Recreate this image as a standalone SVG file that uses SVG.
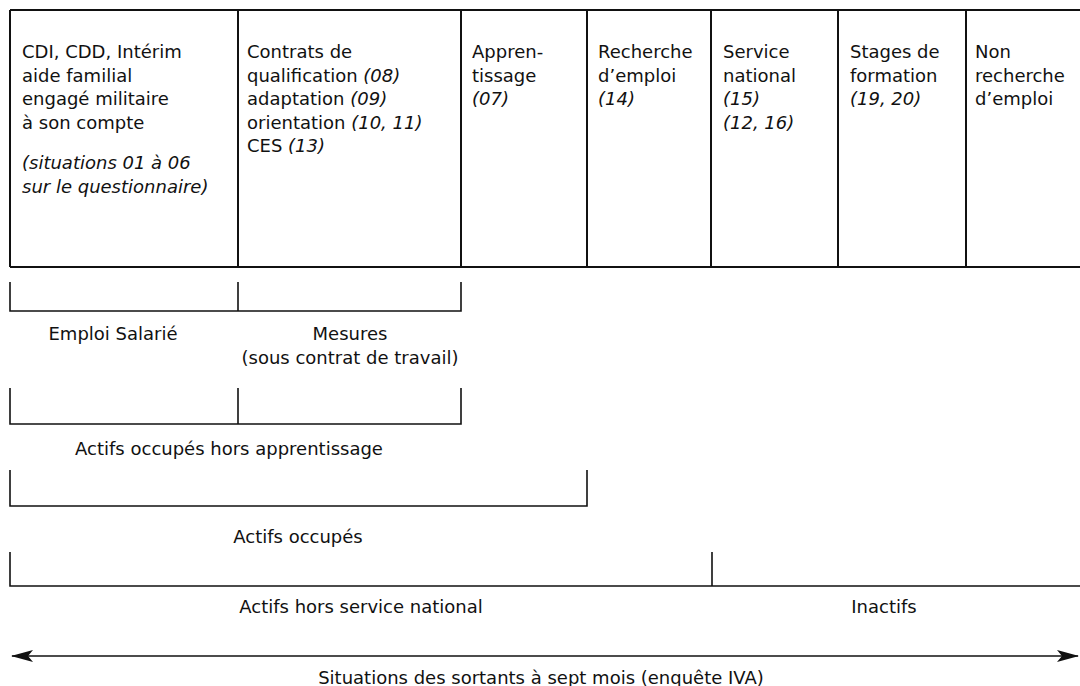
<svg xmlns="http://www.w3.org/2000/svg" width="1080" height="686" viewBox="0 0 1080 686">
<style>
text{font-family:"DejaVu Sans","Liberation Sans",sans-serif;font-size:18px;fill:#111}
.i{font-style:italic}
.c{text-anchor:middle}
.tbl{stroke:#111;stroke-width:2;fill:none}
.br{stroke:#111;stroke-width:1.6;fill:none}
</style>
<defs>
<marker id="ah" viewBox="0 0 22 12" refX="21" refY="6" markerWidth="22" markerHeight="12" markerUnits="userSpaceOnUse" orient="auto-start-reverse">
<path d="M0,0 L22,6 L0,12 L5,6 Z" fill="#111"/>
</marker>
</defs>
<rect width="1080" height="686" fill="#fff"/>
<g id="table">
<path class="tbl" d="M10,10 H1080 M10,267 H1080 M10,10 V267 M238,10 V267 M461,10 V267 M587,10 V267 M711,10 V267 M838,10 V267 M966,10 V267"/>
</g>
<g id="col1">
<text x="22" y="58">CDI, CDD, Intérim</text>
<text x="22" y="82">aide familial</text>
<text x="22" y="105">engagé militaire</text>
<text x="22" y="129">à son compte</text>
<text x="22" y="169" class="i">(situations 01 à 06</text>
<text x="22" y="193" class="i">sur le questionnaire)</text>
</g>
<g id="col2">
<text x="247" y="58">Contrats de</text>
<text x="247" y="82">qualification <tspan class="i">(08)</tspan></text>
<text x="247" y="105">adaptation <tspan class="i">(09)</tspan></text>
<text x="247" y="129">orientation <tspan class="i">(10, 11)</tspan></text>
<text x="247" y="152">CES <tspan class="i">(13)</tspan></text>
</g>
<g id="col3">
<text x="472" y="58">Appren-</text>
<text x="472" y="82">tissage</text>
<text x="472" y="105" class="i">(07)</text>
</g>
<g id="col4">
<text x="598" y="58">Recherche</text>
<text x="598" y="82">d’emploi</text>
<text x="598" y="105" class="i">(14)</text>
</g>
<g id="col5">
<text x="723" y="58">Service</text>
<text x="723" y="82">national</text>
<text x="723" y="105" class="i">(15)</text>
<text x="723" y="129" class="i">(12, 16)</text>
</g>
<g id="col6">
<text x="850" y="58">Stages de</text>
<text x="850" y="82">formation</text>
<text x="850" y="105" class="i">(19, 20)</text>
</g>
<g id="col7">
<text x="975" y="58">Non</text>
<text x="975" y="82">recherche</text>
<text x="975" y="105">d’emploi</text>
</g>
<g id="connectors">
<path class="br" d="M10,282 V311 H461 V282 M238,282 V311"/>
<path class="br" d="M10,388 V424 H461 V388 M238,388 V424"/>
<path class="br" d="M10,470 V506 H587 V470"/>
<path class="br" d="M10,552 V586 H1080 M712,552 V586"/>
<line class="br" x1="12" y1="656" x2="1078" y2="656" marker-start="url(#ah)" marker-end="url(#ah)"/>
</g>
<g id="labels">
<text x="113" y="340" class="c">Emploi Salarié</text>
<text x="350" y="340" class="c">Mesures</text>
<text x="350" y="364" class="c">(sous contrat de travail)</text>
<text x="229" y="455" class="c">Actifs occupés hors apprentissage</text>
<text x="298" y="543" class="c">Actifs occupés</text>
<text x="361" y="613" class="c">Actifs hors service national</text>
<text x="884" y="613" class="c">Inactifs</text>
<text x="541" y="684" class="c">Situations des sortants à sept mois (enquête IVA)</text>
</g>
</svg>
